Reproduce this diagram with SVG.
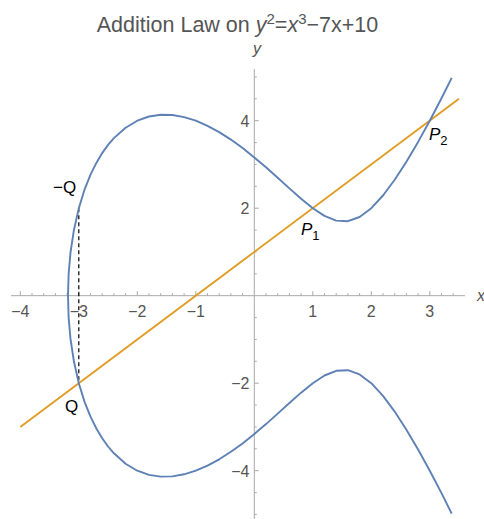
<svg xmlns="http://www.w3.org/2000/svg" width="484" height="519" viewBox="0 0 484 519">
<style>
text{font-family:"Liberation Sans",Arial,sans-serif;}
.tl{font-size:16px;fill:#555555;}
.ax{stroke:#a8a8a8;stroke-width:1;fill:none;}
.lbl{font-size:17px;fill:#000000;}
.it{font-style:italic;}
</style>
<rect width="484" height="519" fill="#ffffff"/>
<g id="title">
<text x="237.5" y="32" text-anchor="middle" style="font-size:21.5px;fill:#555555">Addition Law on <tspan class="it">y</tspan><tspan dy="-8" style="font-size:15px">2</tspan><tspan dy="8">=</tspan><tspan class="it">x</tspan><tspan dy="-8" style="font-size:15px">3</tspan><tspan dy="8">−7x+10</tspan></text>
</g>
<g id="axes">
<path class="ax" d="M11,295.7H465M254.3,69V519"/>
<path class="ax" d="M20.3,295.7v-4.5M78.8,295.7v-4.5M137.3,295.7v-4.5M195.8,295.7v-4.5M312.8,295.7v-4.5M371.3,295.7v-4.5M429.8,295.7v-4.5
M32,295.7v-2.5M43.7,295.7v-2.5M55.4,295.7v-2.5M67.1,295.7v-2.5M90.5,295.7v-2.5M102.2,295.7v-2.5M113.9,295.7v-2.5M125.6,295.7v-2.5M149,295.7v-2.5M160.7,295.7v-2.5M172.4,295.7v-2.5M184.1,295.7v-2.5M207.5,295.7v-2.5M219.2,295.7v-2.5M230.9,295.7v-2.5M242.6,295.7v-2.5M266,295.7v-2.5M277.7,295.7v-2.5M289.4,295.7v-2.5M301.1,295.7v-2.5M324.5,295.7v-2.5M336.2,295.7v-2.5M347.9,295.7v-2.5M359.6,295.7v-2.5M383,295.7v-2.5M394.7,295.7v-2.5M406.4,295.7v-2.5M418.1,295.7v-2.5M441.5,295.7v-2.5M453.2,295.7v-2.5"/>
<path class="ax" d="M254.3,120.7h4.5M254.3,208.2h4.5M254.3,383.2h4.5M254.3,470.7h4.5
M254.3,77h2.5M254.3,98.8h2.5M254.3,142.6h2.5M254.3,164.45h2.5M254.3,186.3h2.5M254.3,230.1h2.5M254.3,251.95h2.5M254.3,273.8h2.5M254.3,317.6h2.5M254.3,339.45h2.5M254.3,361.3h2.5M254.3,405.1h2.5M254.3,426.95h2.5M254.3,448.8h2.5M254.3,492.6h2.5M254.3,514.4h2.5"/>
<text class="tl" x="20.3" y="316.5" text-anchor="middle">−4</text>
<text class="tl" x="78.8" y="316.5" text-anchor="middle">−3</text>
<text class="tl" x="137.3" y="316.5" text-anchor="middle">−2</text>
<text class="tl" x="195.8" y="316.5" text-anchor="middle">−1</text>
<text class="tl" x="312.8" y="316.5" text-anchor="middle">1</text>
<text class="tl" x="371.3" y="316.5" text-anchor="middle">2</text>
<text class="tl" x="429.8" y="316.5" text-anchor="middle">3</text>
<text class="tl" x="249.5" y="126.5" text-anchor="end">4</text>
<text class="tl" x="249.5" y="214" text-anchor="end">2</text>
<text class="tl" x="249.5" y="389" text-anchor="end">−2</text>
<text class="tl" x="249.5" y="476.5" text-anchor="end">−4</text>
<text class="tl it" x="477" y="301">x</text>
<text class="tl it" x="257" y="54" text-anchor="middle">y</text>
</g>
<g id="connectors">
<path id="dashed" d="M78.8,208.2V383.2" stroke="#000000" stroke-width="1.2" stroke-dasharray="4,3" fill="none"/>
<path id="line" d="M20.3,427 L459,98.8" stroke="#E19C24" stroke-width="1.9" fill="none"/>
<polyline id="curve" fill="none" stroke="#5E81B5" stroke-width="1.9" stroke-linejoin="round" points="451.7,513.6 441.5,493.1 429.8,470.7 418.1,449.5 406.4,429.7 394.7,411.6 383.0,395.9 371.3,383.2 359.6,374.4 347.9,370.2 336.2,370.8 324.5,375.5 312.8,383.2 301.1,392.65 289.4,403.0 277.7,413.6 266.0,424.1 254.3,434.0 242.6,443.4 230.9,451.8 219.2,459.3 207.5,465.6 195.8,470.7 184.1,474.3 172.4,476.4 160.7,476.65 149.0,474.9 137.3,470.7 125.6,463.7 113.9,453.3 108.05,446.5 102.2,438.3 96.35,428.5 90.5,416.7 84.65,402.1 78.8,383.2 73.9,361.3 70.5,338.9 68.63,317.6 68.0,295.7 68.63,273.8 70.5,252.5 73.9,230.1 78.8,208.2 84.65,189.3 90.5,174.7 96.35,162.9 102.2,153.1 108.05,144.9 113.9,138.1 125.6,127.7 137.3,120.7 149.0,116.5 160.7,114.75 172.4,115.0 184.1,117.1 195.8,120.7 207.5,125.8 219.2,132.1 230.9,139.6 242.6,148.0 254.3,157.4 266.0,167.3 277.7,177.8 289.4,188.4 301.1,198.75 312.8,208.2 324.5,215.9 336.2,220.6 347.9,221.2 359.6,217.0 371.3,208.2 383.0,195.5 394.7,179.8 406.4,161.7 418.1,141.9 429.8,120.7 441.5,98.3 451.7,77.8"/>
</g>
<g id="node-negQ"><text class="lbl" x="53" y="193">−Q</text></g>
<g id="node-Q"><text class="lbl" x="65" y="412">Q</text></g>
<g id="node-P1"><text class="lbl" x="301" y="235"><tspan class="it">P</tspan><tspan dy="5" style="font-size:13px">1</tspan></text></g>
<g id="node-P2"><text class="lbl" x="429" y="140"><tspan class="it">P</tspan><tspan dy="5" style="font-size:13px">2</tspan></text></g>
</svg>
